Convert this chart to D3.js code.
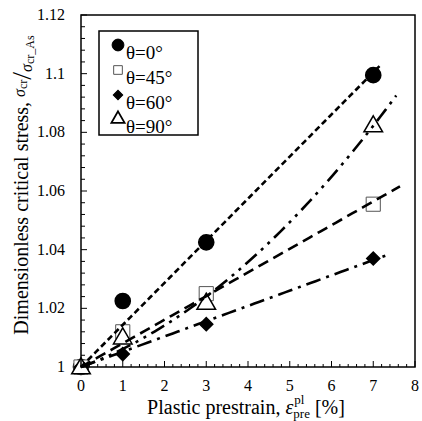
<!DOCTYPE html>
<html><head><meta charset="utf-8">
<script src="https://cdn.jsdelivr.net/npm/d3@7"></script>
<style>body{margin:0;background:#fff}svg{display:block}</style>
</head><body>
<script>
// Data
const strain = [0, 1, 3, 7];
const theta0  = [1, 1.0225, 1.0425, 1.0995];
const theta45 = [1, 1.012, 1.025, 1.0555];
const theta60 = [1, 1.0044, 1.0146, 1.037];
const theta90 = [1, 1.0102, 1.022, 1.0825];
const legendLabels = ["θ=0°", "θ=45°", "θ=60°", "θ=90°"];
const xTicks = [0,1,2,3,4,5,6,7,8];
const yTicks = [1, 1.02, 1.04, 1.06, 1.08, 1.1, 1.12];
// trend-line x extents
const fitEnd = [7.15, 7.64, 7.33, 7.55];

const FONT = "Liberation Serif";
const W = 422, H = 421;
const m = {l:81, r:7, t:15, b:54};
const svg = d3.select("body").append("svg").attr("width", W).attr("height", H)
  .style("font-family", FONT);
const x = d3.scaleLinear().domain([0,8]).range([m.l, W-m.r]);
const y = d3.scaleLinear().domain([1,1.12]).range([H-m.b, m.t]);

// ticks inside
const g = svg.append("g");
const xMinor = d3.range(0, 8.0001, 0.2);
const yMinor = d3.range(1, 1.12001, 0.004);
g.selectAll(".xm").data(xMinor).join("line")
  .attr("x1", d=>x(d)).attr("x2", d=>x(d))
  .attr("y1", y(1)).attr("y2", d=> y(1) - (Math.abs(d-Math.round(d))<1e-6 ? 6 : 3))
  .attr("stroke","#000").attr("stroke-width",1);
g.selectAll(".ym").data(yMinor).join("line")
  .attr("y1", d=>y(d)).attr("y2", d=>y(d))
  .attr("x1", x(0)).attr("x2", d=> x(0) + (Math.abs(d*50-Math.round(d*50))<1e-6 ? 6 : 4))
  .attr("stroke","#000").attr("stroke-width",1);

// tick labels
svg.selectAll(".xl").data(xTicks).join("text")
  .style("font-family", FONT)
  .attr("x", d=>x(d)).attr("y", 391).attr("text-anchor","middle")
  .attr("font-size",16).text(d=>d);
svg.selectAll(".yl").data(yTicks).join("text")
  .style("font-family", FONT)
  .attr("x", 65).attr("y", d=>y(d)+5).attr("text-anchor","end")
  .attr("font-size",16).text(d=> d===1 ? "1" : String(+d.toFixed(2)));

// markers
const series = [theta0, theta45, theta60, theta90];
const symbols = [d3.symbolCircle, d3.symbolSquare, d3.symbolSquare, d3.symbolTriangle];
const rot = [0, 0, 45, 0];
const sizes = [180, 200, 85, 150];
const fills = ["#000", "#fff", "#000", "#fff"];
const strokes = ["#000", "#555", "#000", "#000"];

series.forEach((s, i) => {
  svg.append("g").selectAll("path").data(strain.map((d,j)=>[d, s[j]])).join("path")
    .attr("transform", d=>`translate(${x(d[0])},${y(d[1]) + (i===3?1.5:0)}) rotate(${rot[i]})`)
    .attr("d", d3.symbol().type(symbols[i]).size(sizes[i]))
    .attr("fill", fills[i]).attr("stroke", strokes[i]).attr("stroke-width", i===1?1:1.5);
});

// trend lines: least squares through (0,1); theta90 quadratic
function linFit(ys){
  let sxy=0,sxx=0; strain.forEach((v,j)=>{sxy+=v*(ys[j]-1); sxx+=v*v;});
  const a=sxy/sxx; return t=>1+a*t;
}
function quadFit(ys){
  let s2=0,s3=0,s4=0,b1=0,b2=0;
  strain.forEach((v,j)=>{const d=ys[j]-1; s2+=v*v; s3+=v**3; s4+=v**4; b1+=v*d; b2+=v*v*d;});
  const det=s2*s4-s3*s3; const a=(b1*s4-s3*b2)/det, b=(s2*b2-s3*b1)/det;
  return t=>1+a*t+b*t*t;
}
const fits = [linFit(theta0), linFit(theta45), linFit(theta60), quadFit(theta90)];
const dashes = ["6,3.5", "11,6", "15,6,3,6", "15,6,3,6,3,6"];
const line = d3.line().x(d=>x(d[0])).y(d=>y(d[1]));
fits.forEach((f,i)=>{
  const pts = d3.range(0, 61).map(k=>{const t=fitEnd[i]*k/60; return [t, f(t)];});
  svg.append("path").attr("d", line(pts)).attr("fill","none")
    .attr("stroke","#000").attr("stroke-width",2.6).attr("stroke-dasharray", dashes[i]);
});

// frame
svg.append("rect").attr("x", x(0)).attr("y", y(1.12)).attr("width", x(8)-x(0)).attr("height", y(1)-y(1.12))
  .attr("fill","none").attr("stroke","#000").attr("stroke-width",1.5);

// legend
const lg = svg.append("g");
lg.append("rect").attr("x",99).attr("y",31).attr("width",99).attr("height",104)
  .attr("fill","#fff").attr("stroke","#000").attr("stroke-width",1.5);
const lgSizes = [110, 75, 45, 75];
const markerY = [45, 70, 95, 119];
const textY = [59, 84, 109, 133];
legendLabels.forEach((lab,i)=>{
  lg.append("path").attr("transform",`translate(118,${markerY[i]}) rotate(${rot[i]})`)
    .attr("d", d3.symbol().type(symbols[i]).size(lgSizes[i]))
    .attr("fill", fills[i]).attr("stroke", strokes[i]).attr("stroke-width", i===3?1.8:1);
  lg.append("text").style("font-family", FONT).attr("x",126).attr("y",textY[i]).attr("font-size",19).text(lab);
});

// axis titles
const xt = svg.append("text").style("font-family", FONT).attr("x", 246).attr("y", 414).attr("text-anchor","middle").attr("font-size",20);
xt.append("tspan").text("Plastic prestrain, ");
xt.append("tspan").attr("font-style","italic").text("ε");
const sub = xt.append("tspan").attr("font-size",13).attr("dy",4).text("pre");
const sup = xt.append("tspan").attr("font-size",13).attr("dy",-14).text("pl");
const rest = xt.append("tspan").attr("dy",10).text(" [%]");
const wSub = sub.node().getComputedTextLength();
const wSup = sup.node().getComputedTextLength();
sup.attr("dx", -wSub + 1);
rest.attr("dx", Math.max(0, wSub - wSup - 1));

const yt = svg.append("text").style("font-family", FONT).attr("transform",`translate(28,${(y(1)+y(1.12))/2 - 6}) rotate(-90)`)
  .attr("text-anchor","middle").attr("font-size",20);
yt.append("tspan").text("Dimensionless critical stress, ");
yt.append("tspan").attr("font-style","italic").attr("font-size",16).attr("dy",-3).text("σ");
yt.append("tspan").attr("font-size",12).attr("dy",2).text("cr");
yt.append("tspan").attr("font-size",28).attr("dy",4).text("/");
yt.append("tspan").attr("font-style","italic").attr("font-size",16).attr("dy",1).text("σ");
yt.append("tspan").attr("font-size",12).attr("dy",2).text("cr_As");
</script>
</body></html>
